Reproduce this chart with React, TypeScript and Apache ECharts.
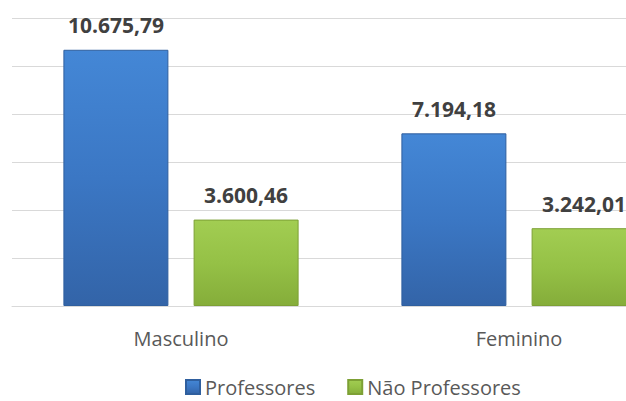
import React, { useEffect, useRef } from "react";
import * as echarts from "echarts";

const categories = ["Masculino", "Feminino"];
const professores = [10675.79, 7194.18];
const naoProfessores = [3600.46, 3242.01];
const seriesNames = ["Professores", "Não Professores"];

function fmt(v: number): string {
  const parts = v.toFixed(2).split(".");
  const int = parts[0].replace(/\B(?=(\d{3})+(?!\d))/g, ".");
  return int + "," + parts[1];
}

const blue = new echarts.graphic.LinearGradient(0, 0, 0, 1, [
  { offset: 0, color: "#4487d6" },
  { offset: 0.5, color: "#3b77c4" },
  { offset: 1, color: "#3364a8" },
]);
const green = new echarts.graphic.LinearGradient(0, 0, 0, 1, [
  { offset: 0, color: "#a2cd52" },
  { offset: 0.5, color: "#95c146" },
  { offset: 1, color: "#85ad3a" },
]);

export default function App() {
  const ref = useRef<HTMLDivElement>(null);
  useEffect(() => {
    document.body.style.margin = "0";
    if (!ref.current) return;
    const chart = echarts.init(ref.current, null, { renderer: "svg" });
    const label = {
      show: true,
      position: "top" as const,
      distance: 14,
      fontFamily: "Open Sans",
      fontWeight: "bold" as const,
      fontSize: 21,
      color: "#404040",
      formatter: (p: any) => fmt(p.value),
    };
    chart.setOption({
      animation: false,
      grid: { left: 12, top: 18, height: 288, right: 12, containLabel: false },
      legend: {
        left: 185,
        top: 376,
        padding: 0,
        itemWidth: 14,
        itemHeight: 14,
        itemGap: 32,
        icon: "rect",
        textStyle: { fontFamily: "Open Sans", fontSize: 20, lineHeight: 22, color: "#595959" },
        data: seriesNames,
      },
      xAxis: {
        type: "category",
        data: categories,
        axisLine: { lineStyle: { color: "#d9d9d9", width: 1 } },
        axisTick: { show: false },
        axisLabel: { margin: 22, fontFamily: "Open Sans", fontSize: 20, color: "#595959" },
      },
      yAxis: {
        type: "value",
        min: 0,
        max: 12000,
        interval: 2000,
        axisLabel: { show: false },
        axisLine: { show: false },
        axisTick: { show: false },
        splitLine: { lineStyle: { color: "#d9d9d9", width: 1 } },
      },
      series: [
        {
          name: seriesNames[0],
          type: "bar",
          data: professores,
          barWidth: 105,
          barGap: "24%",
          itemStyle: { color: blue, borderColor: "#2f5f9e", borderWidth: 1 },
          label,
        },
        {
          name: seriesNames[1],
          type: "bar",
          data: naoProfessores,
          barWidth: 105,
          itemStyle: { color: green, borderColor: "#7da035", borderWidth: 1 },
          label,
        },
      ],
    });
    return () => chart.dispose();
  }, []);
  return (
    <div style={{ width: 626, height: 401, overflow: "hidden", position: "relative" }}>
      <div ref={ref} style={{ width: 700, height: 401 }} />
    </div>
  );
}
